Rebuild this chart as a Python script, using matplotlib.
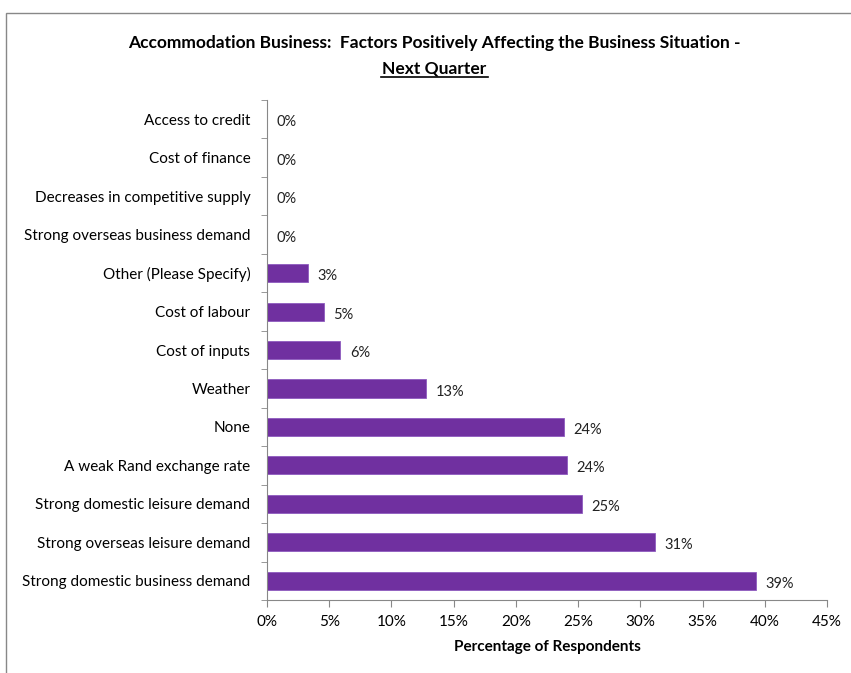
import matplotlib.pyplot as plt
from matplotlib.patches import Rectangle
from matplotlib.ticker import FixedLocator, PercentFormatter

plt.rcParams['font.family'] = ['Liberation Sans Narrow', 'Lato', 'DejaVu Sans']

# categories from top to bottom
factors = ['Access to credit', 'Cost of finance', 'Decreases in competitive supply',
           'Strong overseas business demand', 'Other (Please Specify)', 'Cost of labour',
           'Cost of inputs', 'Weather', 'None', 'A weak Rand exchange rate',
           'Strong domestic leisure demand', 'Strong overseas leisure demand',
           'Strong domestic business demand']
pct = [0, 0, 0, 0, 3.3, 4.6, 5.9, 12.8, 23.9, 24.1, 25.3, 31.2, 39.3]
labels = ['0%', '0%', '0%', '0%', '3%', '5%', '6%', '13%', '24%', '24%', '25%', '31%', '39%']

fig = plt.figure(figsize=(8.51, 6.73), dpi=100)
ax = fig.add_axes([267/851, 1-600/673, 560/851, 500/673])

ypos = list(range(len(factors)))
ax.barh(ypos, pct, height=0.47, color='#7030A0', edgecolor='#8E5BBF', linewidth=0.6)
ax.set_ylim(len(factors) - 0.5, -0.5)
ax.set_xlim(0, 45)

for y, v, t in zip(ypos, pct, labels):
    ax.text(v + 0.75, y + 0.08, t, va='center', ha='left', fontsize=10.5, color='#222222')

ax.set_yticks(ypos)
ax.set_yticklabels(factors, fontsize=11)
ax.yaxis.set_minor_locator(FixedLocator([i - 0.5 for i in range(len(factors) + 1)]))
ax.tick_params(axis='y', which='major', length=0, pad=12)
ax.tick_params(axis='y', which='minor', length=4, color='#888888')

ax.set_xticks(range(0, 46, 5))
ax.xaxis.set_major_formatter(PercentFormatter(decimals=0))
ax.tick_params(axis='x', length=5, color='#888888', labelsize=11, pad=6)
ax.set_xlabel('Percentage of Respondents', fontsize=11, fontweight='bold', labelpad=8)

for s in ['top', 'right']:
    ax.spines[s].set_visible(False)
for s in ['left', 'bottom']:
    ax.spines[s].set_color('#888888')

fig.text(434/851, 1-43/673, 'Accommodation Business:  Factors Positively Affecting the Business Situation -',
         ha='center', va='center', fontsize=12.5, fontweight='bold')
fig.text(434/851, 1-68/673, 'Next Quarter', ha='center', va='center', fontsize=12.5,
         fontweight='bold')
fig.add_artist(plt.Line2D([381/851, 488/851], [1-77/673, 1-77/673], color='black', lw=1.2))

fig.patches.append(Rectangle((6/851, -0.02), 1.0, 1-13/673+0.02, transform=fig.transFigure,
                             fill=False, edgecolor='#888888', linewidth=1))

fig.savefig('out.png', dpi=100)
